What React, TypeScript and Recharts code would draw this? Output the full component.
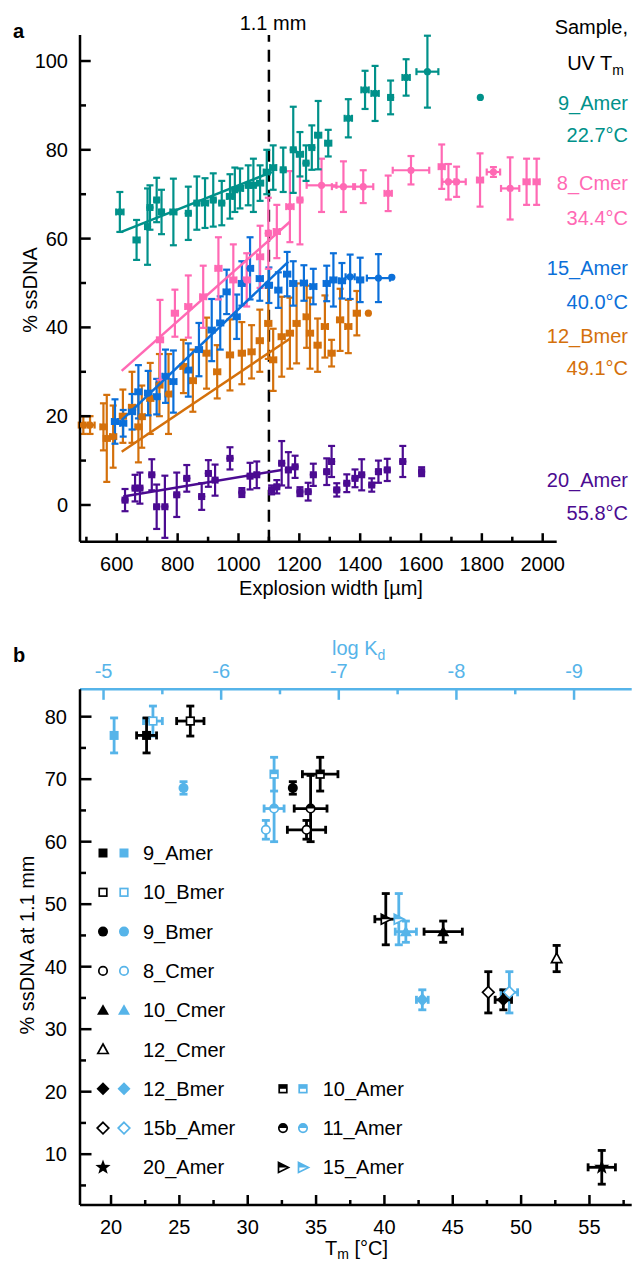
import React from "react"
import { ScatterChart, Scatter, XAxis, YAxis, ErrorBar, ReferenceLine } from "recharts"

const FONT = "'Liberation Sans', Arial, Helvetica, sans-serif"
const FS = 20

const TEAL = "#00918a"
const PINK = "#ff69b4"
const BLUE = "#0b6fd9"
const ORANGE = "#d4700b"
const PURPLE = "#4b0b91"
const SKY = "#56b4e9"

// ---------- panel a ----------
const widthTicks = [500, 600, 700, 800, 900, 1000, 1100, 1200, 1300, 1400, 1500, 1600, 1700, 1800, 1900, 2000]
const widthLabels = [600, 800, 1000, 1200, 1400, 1600, 1800, 2000]
const ssTicksA = [0, 10, 20, 30, 40, 50, 60, 70, 80, 90, 100]
const ssLabelsA = [0, 20, 40, 60, 80, 100]

const sampleNamesA = ["9_Amer", "8_Cmer", "15_Amer", "12_Bmer", "20_Amer"]
const sampleTmA = ["22.7", "34.4", "40.0", "49.1", "55.8"]

const amer9X = [610, 665, 701, 709, 731, 747, 786, 835, 863, 890, 917, 945, 972, 988, 1005, 1032, 1049, 1071, 1093, 1114, 1147, 1180, 1202, 1222, 1241, 1262, 1295, 1361, 1416, 1449, 1500, 1551, 1621, 1795]
const amer9Y = [66, 59.7, 62.7, 67, 68.7, 66, 66, 65.7, 68, 68, 68.7, 68, 69.5, 71, 71.3, 72, 72, 72.5, 75, 76, 75.5, 80, 79, 77, 80.5, 83.3, 81.5, 87.1, 93.5, 92.7, 91.8, 96.3, 97.6, 91.8]
const amer9Ey = [4.5, 4.5, 8.6, 5, 5, 5, 7.5, 6, 6, 5.6, 6, 5, 5, 5, 4.5, 4.5, 6, 4, 5, 5, 5, 9.7, 5, 4, 5, 7.7, 3, 4.3, 4.3, 6.2, 3.8, 4.1, 8.1, 0]
const amer9Ex = [12, 10, 8, 8, 8, 8, 10, 8, 8, 10, 8, 8, 10, 8, 10, 8, 8, 10, 10, 10, 8, 8, 10, 8, 8, 10, 10, 12, 12, 12, 8, 12, 36, 0]
const amer9FitX = [615, 1110]
const amer9FitY = [61.5, 75]

const cmer8X = [742, 791, 835, 884, 934, 983, 1027, 1071, 1098, 1126, 1169, 1202, 1273, 1345, 1410, 1492, 1567, 1668, 1690, 1717, 1794, 1838, 1893, 1947, 1980]
const cmer8Y = [37.2, 43.2, 44.7, 46.9, 53.3, 50.7, 50.7, 55.9, 61.2, 61.6, 67.2, 68.7, 72, 71.7, 71.7, 70.2, 75.4, 76.2, 72.8, 72.8, 73.2, 75, 71.3, 72.8, 72.8]
const cmer8Ey = [9, 5.3, 7, 7, 7, 8, 6, 7, 8, 6, 8, 10, 6, 5.7, 3.7, 4, 3.2, 5, 4, 3.4, 6, 1.1, 7, 5.2, 5.2]
const cmer8Ex = [10, 10, 10, 10, 10, 10, 10, 10, 8, 10, 12, 8, 49, 38, 33, 12, 60, 10, 20, 30, 10, 22, 30, 10, 10]
const cmer8FitX = [616, 1169]
const cmer8FitY = [30.2, 63.8]

const amer15X = [594, 621, 650, 671, 703, 731, 760, 786, 835, 870, 912, 940, 961, 994, 1011, 1038, 1070, 1100, 1131, 1160, 1180, 1215, 1246, 1290, 1312, 1340, 1367, 1400, 1460, 1504]
const amer15Y = [18.8, 18.4, 21, 25.5, 25.2, 24.4, 29, 27.8, 30.4, 35, 39.4, 41, 48, 42.4, 49.9, 53.3, 51, 49.5, 48.4, 52, 49.9, 50, 49.2, 49.9, 50.7, 50.5, 51.4, 50.7, 51.1, 51.3]
const amer15Ey = [5, 3, 4, 6, 5, 4, 6, 7, 6, 6, 7, 6, 5, 5, 5, 7, 5, 4, 4, 5, 5, 4, 4, 4, 6, 4, 5, 5, 5.4, 0]
const amer15Ex = [10, 10, 10, 10, 10, 10, 10, 10, 10, 10, 10, 10, 10, 10, 10, 10, 10, 10, 10, 10, 10, 10, 10, 10, 10, 10, 15, 10, 38, 0]
const amer15FitX = [616, 1164]
const amer15FitY = [19.1, 54.8]

const bmer12X = [490, 512, 556, 567, 588, 620, 650, 671, 682, 710, 740, 770, 819, 850, 895, 930, 972, 1011, 1043, 1070, 1098, 1114, 1142, 1169, 1191, 1224, 1235, 1260, 1284, 1306, 1334, 1361, 1389, 1427]
const bmer12Y = [18, 18, 17.6, 15, 15.4, 20, 22, 17.6, 19.9, 24, 27, 25, 31.2, 28, 34.2, 30, 33.8, 34.2, 34.5, 37, 40.9, 32.7, 37.9, 38.7, 40.9, 42.4, 38.7, 36, 40.2, 34.2, 41.7, 40.2, 43.2, 43.2]
const bmer12Ey = [2, 2, 5.3, 9.8, 7, 6, 8, 8, 7, 8, 7, 9, 6, 7, 8, 6, 8, 7, 6, 7, 8, 7, 9, 8, 9, 7, 8, 6, 7, 3, 7, 6, 5, 0]
const bmer12Ex = [15, 15, 10, 10, 10, 10, 10, 10, 10, 10, 10, 10, 10, 10, 10, 10, 10, 10, 10, 10, 10, 10, 10, 10, 10, 10, 10, 10, 10, 10, 10, 10, 10, 0]
const bmer12FitX = [616, 1170]
const bmer12FitY = [12, 37.5]

const amer20X = [627, 660, 676, 715, 731, 758, 797, 830, 879, 901, 923, 972, 1011, 1038, 1060, 1109, 1126, 1142, 1164, 1186, 1202, 1229, 1246, 1290, 1306, 1323, 1356, 1383, 1405, 1438, 1460, 1489, 1540, 1602]
const amer20Y = [1.1, 3.8, 3.8, 6.8, -0.4, -0.4, 2.3, 6, 1.9, 7.1, 5.6, 10.5, 2.8, 6.5, 6.8, 3.4, 4.1, 9.4, 7.9, 8.6, 3.0, 3.0, 6.8, 7.5, 9.8, 3.4, 4.9, 6, 6.8, 4.5, 7.5, 7.9, 9.8, 7.5]
const amer20Ey = [2.5, 3, 3.5, 3.5, 5, 7, 5, 3, 3, 3, 3.5, 2.5, 1, 3, 3, 1, 1.5, 5, 4, 2.5, 1, 2, 2.5, 3, 3.5, 1.5, 2, 2, 3.5, 1.5, 2.5, 2.5, 3.5, 1]
const amer20Ex = [8, 8, 8, 8, 8, 8, 8, 8, 8, 8, 8, 8, 8, 8, 8, 8, 8, 8, 8, 8, 8, 8, 8, 8, 8, 8, 8, 8, 8, 8, 8, 8, 8, 8]
const amer20FitX = [621, 1142]
const amer20FitY = [1.9, 7.9]

// ---------- panel b ----------
const tmTicks = [20, 22.5, 25, 27.5, 30, 32.5, 35, 37.5, 40, 42.5, 45, 47.5, 50, 52.5, 55, 57.5]
const tmLabels = [20, 25, 30, 35, 40, 45, 50, 55]
const kdTicks = [-5, -5.5, -6, -6.5, -7, -7.5, -8, -8.5, -9]
const kdLabels = [-5, -6, -7, -8, -9]
const ssTicksB = [5, 10, 15, 20, 25, 30, 35, 40, 45, 50, 55, 60, 65, 70, 75, 80]
const ssLabelsB = [10, 20, 30, 40, 50, 60, 70, 80]

const bSample = ["9_Amer", "10_Bmer", "9_Bmer", "8_Cmer", "10_Cmer", "12_Cmer", "12_Bmer", "15b_Amer", "20_Amer", "10_Amer", "11_Amer", "15_Amer"]
const bTm = [22.6, 25.8, 33.3, 34.3, 44.3, 52.6, 48.7, 47.6, 55.9, 35.3, 34.6, 40.1]
const bTmErr = [0.73, 1.0, 0, 1.4, 1.4, 0, 0.6, 0, 1.0, 1.3, 1.2, 0.8]
const bSs = [77.0, 79.3, 68.6, 61.9, 45.6, 41.3, 34.7, 35.9, 7.9, 70.8, 65.3, 47.6]
const bSsErr = [2.8, 2.4, 1.0, 1.5, 1.7, 2.1, 1.6, 3.3, 2.7, 2.7, 5.3, 4.1]
const bLogKd = [-5.09, -5.42, -5.68, -6.38, -7.57, null, -7.71, -8.45, null, -6.45, -6.45, -7.51]
const bLogKdErr = [0, 0.08, 0, 0, 0.09, 0, 0.05, 0.07, 0, 0, 0.085, 0]
const bShape = ["sq", "sqo", "ci", "cio", "tri", "trio", "dia", "diao", "star", "sqh", "cih", "rtri"]

type Pt = { x: number; y: number; ex: number; ey: number }
const toPoints = (xs: number[], ys: number[], exs: number[], eys: number[]): Pt[] =>
  xs.map((x, i) => ({ x, y: ys[i], ex: exs[i], ey: eys[i] }))
const toLine = (xs: number[], ys: number[]) => xs.map((x, i) => ({ x, y: ys[i] }))

type Side = "left" | "right" | "top" | "bottom"
type TickOpts = { side: Side; labels: number[]; major: number; minor: number; color: string; gap: number }

const makeTick = (o: TickOpts) => (props: any) => {
  const { x, y, payload } = props
  const v = payload.value as number
  const isMajor = o.labels.some((m) => Math.abs(m - v) < 1e-6)
  const len = isMajor ? o.major : o.minor
  let x2 = x
  let y2 = y
  if (o.side === "left") x2 = x + len
  if (o.side === "right") x2 = x - len
  if (o.side === "bottom") y2 = y - len
  if (o.side === "top") y2 = y + len
  let text = null
  const common = { fontFamily: FONT, fontSize: FS, fill: o.color === SKY ? SKY : "#000" }
  if (isMajor && o.side === "left") {
    text = <text x={x - o.gap} y={y} dy="0.35em" textAnchor="end" {...common}>{v}</text>
  }
  if (isMajor && o.side === "bottom") {
    text = <text x={x} y={y + o.gap} textAnchor="middle" {...common}>{v}</text>
  }
  if (isMajor && o.side === "top") {
    text = <text x={x} y={y - o.gap} textAnchor="middle" {...common}>{v}</text>
  }
  return (
    <g>
      <line x1={x} y1={y} x2={x2} y2={y2} stroke={o.color} strokeWidth={2.5} />
      {text}
    </g>
  )
}

function Marker({ kind, color, cx, cy }: { kind: string; color: string; cx: number; cy: number }) {
  const sw = 1.7
  if (kind === "sq") return <rect x={cx - 4.5} y={cy - 4.5} width={9} height={9} fill={color} />
  if (kind === "sqo")
    return <rect x={cx - 3.8} y={cy - 3.8} width={7.6} height={7.6} fill="#fff" stroke={color} strokeWidth={sw} />
  if (kind === "sqh")
    return (
      <g>
        <rect x={cx - 3.8} y={cy - 3.8} width={7.6} height={7.6} fill="#fff" stroke={color} strokeWidth={sw} />
        <rect x={cx - 3.8} y={cy - 3.8} width={7.6} height={3.8} fill={color} />
      </g>
    )
  if (kind === "ci") return <circle cx={cx} cy={cy} r={5} fill={color} />
  if (kind === "cio") return <circle cx={cx} cy={cy} r={4.2} fill="#fff" stroke={color} strokeWidth={sw} />
  if (kind === "cih")
    return (
      <g>
        <circle cx={cx} cy={cy} r={4.2} fill="#fff" stroke={color} strokeWidth={sw} />
        <path d={`M ${cx - 4.2} ${cy} A 4.2 4.2 0 0 1 ${cx + 4.2} ${cy} Z`} fill={color} />
      </g>
    )
  if (kind === "tri")
    return <polygon points={`${cx},${cy - 6} ${cx + 6},${cy + 4.5} ${cx - 6},${cy + 4.5}`} fill={color} />
  if (kind === "trio")
    return (
      <polygon
        points={`${cx},${cy - 5.5} ${cx + 5.2},${cy + 4} ${cx - 5.2},${cy + 4}`}
        fill="#fff"
        stroke={color}
        strokeWidth={sw}
      />
    )
  if (kind === "dia")
    return <polygon points={`${cx},${cy - 6.5} ${cx + 6.5},${cy} ${cx},${cy + 6.5} ${cx - 6.5},${cy}`} fill={color} />
  if (kind === "diao")
    return (
      <polygon
        points={`${cx},${cy - 5.8} ${cx + 5.8},${cy} ${cx},${cy + 5.8} ${cx - 5.8},${cy}`}
        fill="#fff"
        stroke={color}
        strokeWidth={sw}
      />
    )
  if (kind === "star") {
    const pts: string[] = []
    for (let i = 0; i < 10; i++) {
      const r = i % 2 === 0 ? 8 : 3.3
      const a = -Math.PI / 2 + (i * Math.PI) / 5
      pts.push(`${cx + r * Math.cos(a)},${cy + r * Math.sin(a)}`)
    }
    return <polygon points={pts.join(" ")} fill={color} />
  }
  if (kind === "rtri")
    return (
      <g>
        <polygon
          points={`${cx - 4.5},${cy - 5} ${cx + 5.5},${cy} ${cx - 4.5},${cy + 5}`}
          fill="#fff"
          stroke={color}
          strokeWidth={sw}
        />
        <polygon points={`${cx - 4.5},${cy - 5} ${cx + 5.5},${cy} ${cx - 4.5},${cy}`} fill={color} />
      </g>
    )
  return null
}

const dot = (color: string) => (p: any) => <circle cx={p.cx} cy={p.cy} r={3.6} fill={color} />
const nothing = () => <g />

const seriesA = [
  { name: "purple", color: PURPLE, pts: toPoints(amer20X, amer20Y, amer20Ex, amer20Ey), fit: toLine(amer20FitX, amer20FitY) },
  { name: "orange", color: ORANGE, pts: toPoints(bmer12X, bmer12Y, bmer12Ex, bmer12Ey), fit: toLine(bmer12FitX, bmer12FitY) },
  { name: "blue", color: BLUE, pts: toPoints(amer15X, amer15Y, amer15Ex, amer15Ey), fit: toLine(amer15FitX, amer15FitY) },
  { name: "pink", color: PINK, pts: toPoints(cmer8X, cmer8Y, cmer8Ex, cmer8Ey), fit: toLine(cmer8FitX, cmer8FitY) },
  { name: "teal", color: TEAL, pts: toPoints(amer9X, amer9Y, amer9Ex, amer9Ey), fit: toLine(amer9FitX, amer9FitY) },
]
const labelColorsA = [TEAL, PINK, BLUE, ORANGE, PURPLE]

function PanelA() {
  return (
    <ScatterChart width={634} height={610} margin={{ top: 35, right: 77.3, bottom: 38.3, left: 0 }}>
      <XAxis
        type="number"
        dataKey="x"
        domain={[479, 2046]}
        allowDataOverflow
        ticks={widthTicks}
        interval={0}
        height={30}
        tickSize={0}
        tickMargin={0}
        tickLine={false}
        axisLine={{ stroke: "#000", strokeWidth: 2.5 }}
        tick={makeTick({ side: "bottom", labels: widthLabels, major: 8.5, minor: 5, color: "#000", gap: 29.5 })}
      />
      <YAxis
        type="number"
        dataKey="y"
        domain={[-8.27, 105.86]}
        allowDataOverflow
        ticks={ssTicksA}
        interval={0}
        width={80}
        tickSize={0}
        tickMargin={0}
        tickLine={false}
        axisLine={{ stroke: "#000", strokeWidth: 2.5 }}
        tick={makeTick({ side: "left", labels: ssLabelsA, major: 10.7, minor: 6, color: "#000", gap: 12 })}
      />
      <ReferenceLine x={1100} stroke="#000" strokeWidth={2.5} strokeDasharray="12 8" />
      {seriesA.map((s) => (
        <Scatter key={s.name} data={s.pts} fill={s.color} shape={dot(s.color)} isAnimationActive={false}>
          <ErrorBar dataKey="ey" direction="y" width={3.5} stroke={s.color} strokeWidth={2.2} />
          <ErrorBar dataKey="ex" direction="x" width={3.5} stroke={s.color} strokeWidth={2.2} />
        </Scatter>
      ))}
      {seriesA.map((s) => (
        <Scatter
          key={s.name + "-fit"}
          data={s.fit}
          fill={s.color}
          shape={nothing}
          line={{ stroke: s.color, strokeWidth: 2.5 }}
          isAnimationActive={false}
        />
      ))}
    </ScatterChart>
  )
}

function PanelB() {
  const black = bSample.map((name, i) => ({
    name,
    kind: bShape[i],
    pts: [{ x: bTm[i], y: bSs[i], ex: bTmErr[i], ey: bSsErr[i] }],
  }))
  const blue = bSample
    .map((name, i) => ({
      name,
      kind: bShape[i],
      has: bLogKd[i] !== null,
      pts: [{ x: bLogKd[i] as number, y: bSs[i], ex: bLogKdErr[i], ey: bSsErr[i] }],
    }))
    .filter((s) => s.has)
  return (
    <ScatterChart width={634} height={632} margin={{ top: 29.3, right: 2.3, bottom: 27, left: 0 }}>
      <XAxis
        xAxisId="kd"
        orientation="top"
        type="number"
        dataKey="x"
        domain={[-9.49, -4.8]}
        reversed
        allowDataOverflow
        ticks={kdTicks}
        interval={0}
        height={30}
        tickSize={0}
        tickMargin={0}
        tickLine={false}
        axisLine={{ stroke: SKY, strokeWidth: 2.5 }}
        tick={makeTick({ side: "top", labels: kdLabels, major: 10.5, minor: 5, color: SKY, gap: 11 })}
      />
      <XAxis
        xAxisId="tm"
        orientation="bottom"
        type="number"
        dataKey="x"
        domain={[17.73, 58.09]}
        allowDataOverflow
        ticks={tmTicks}
        interval={0}
        height={30}
        tickSize={0}
        tickMargin={0}
        tickLine={false}
        axisLine={{ stroke: "#000", strokeWidth: 2.5 }}
        tick={makeTick({ side: "bottom", labels: tmLabels, major: 10, minor: 5, color: "#000", gap: 29 })}
      />
      <YAxis
        yAxisId="l"
        type="number"
        dataKey="y"
        domain={[1.87, 84.38]}
        allowDataOverflow
        ticks={ssTicksB}
        interval={0}
        width={80}
        tickSize={0}
        tickMargin={0}
        tickLine={false}
        axisLine={{ stroke: "#000", strokeWidth: 2.5 }}
        tick={makeTick({ side: "left", labels: ssLabelsB, major: 11.5, minor: 6, color: "#000", gap: 13 })}
      />
      <YAxis
        yAxisId="r"
        orientation="right"
        type="number"
        dataKey="y"
        domain={[1.87, 84.38]}
        allowDataOverflow
        ticks={ssTicksB}
        interval={0}
        width={0}
        tickSize={0}
        tickMargin={0}
        tickLine={false}
        axisLine={{ stroke: "#000", strokeWidth: 2.5 }}
        tick={makeTick({ side: "right", labels: ssLabelsB, major: 10, minor: 5, color: "#000", gap: 0 })}
      />
      {blue.map((s) => (
        <Scatter
          key={"kd-" + s.name}
          xAxisId="kd"
          yAxisId="l"
          data={s.pts}
          fill={SKY}
          shape={(p: any) => <Marker kind={s.kind} color={SKY} cx={p.cx} cy={p.cy} />}
          isAnimationActive={false}
        >
          <ErrorBar dataKey="ey" direction="y" width={4} stroke={SKY} strokeWidth={2.8} />
          <ErrorBar dataKey="ex" direction="x" width={4} stroke={SKY} strokeWidth={2.8} />
        </Scatter>
      ))}
      {black.map((s) => (
        <Scatter
          key={"tm-" + s.name}
          xAxisId="tm"
          yAxisId="l"
          data={s.pts}
          fill="#000"
          shape={(p: any) => <Marker kind={s.kind} color="#000" cx={p.cx} cy={p.cy} />}
          isAnimationActive={false}
        >
          <ErrorBar dataKey="ey" direction="y" width={4} stroke="#000" strokeWidth={2.8} />
          <ErrorBar dataKey="ex" direction="x" width={4} stroke="#000" strokeWidth={2.8} />
        </Scatter>
      ))}
    </ScatterChart>
  )
}

function Overlay() {
  const t = { fontFamily: FONT, fontSize: FS }
  const tmRows = [135, 217.7, 301.7, 368.3, 513.3]
  const nameRows = [102.7, 183, 268.3, 336, 480]
  const legendLeft = [0, 1, 2, 3, 4, 5, 6, 7, 8]
  const legendRight = [9, 10, 11]
  const rowY = (r: number) => 853 + r * 39.3
  return (
    <svg width={634} height={1262} style={{ position: "absolute", left: 0, top: 0, pointerEvents: "none" }}>
      <text x={13} y={38} {...t} fontWeight="bold">a</text>
      <text x={13} y={662} {...t} fontWeight="bold">b</text>
      <text x={273} y={30} textAnchor="middle" {...t}>1.1 mm</text>
      <text x={628} y={33.7} textAnchor="end" {...t}>Sample,</text>
      <text x={624} y={70.3} textAnchor="end" {...t}>
        UV T<tspan dy={5} fontSize={14}>m</tspan>
      </text>
      {sampleNamesA.map((n, i) => (
        <text key={n} x={628} y={nameRows[i] + 7} textAnchor="end" fill={labelColorsA[i]} {...t}>{n}</text>
      ))}
      {sampleTmA.map((v, i) => (
        <text key={v} x={628} y={tmRows[i] + 7} textAnchor="end" fill={labelColorsA[i]} {...t}>{v}°C</text>
      ))}
      <text transform="translate(37,290) rotate(-90)" textAnchor="middle" {...t}>% ssDNA</text>
      <text x={331} y={595} textAnchor="middle" {...t}>Explosion width [µm]</text>

      <text x={332} y={655} fill={SKY} {...t}>
        log K<tspan dy={5} fontSize={14}>d</tspan>
      </text>
      <text transform="translate(34,945) rotate(-90)" textAnchor="middle" {...t}>% ssDNA at 1.1 mm</text>
      <text x={325} y={1255} {...t}>
        T<tspan dy={4} fontSize={14}>m</tspan>
        <tspan dy={-4}> [°C]</tspan>
      </text>

      {legendLeft.map((i, r) => (
        <g key={bSample[i]}>
          <Marker kind={bShape[i]} color="#000" cx={103} cy={rowY(r)} />
          {bLogKd[i] !== null && <Marker kind={bShape[i]} color={SKY} cx={124} cy={rowY(r)} />}
          <text x={143} y={rowY(r) + 7} {...t}>{bSample[i]}</text>
        </g>
      ))}
      {legendRight.map((i, r) => (
        <g key={bSample[i]}>
          <Marker kind={bShape[i]} color="#000" cx={283} cy={rowY(r + 6)} />
          <Marker kind={bShape[i]} color={SKY} cx={303} cy={rowY(r + 6)} />
          <text x={322.7} y={rowY(r + 6) + 7} {...t}>{bSample[i]}</text>
        </g>
      ))}
    </svg>
  )
}

export default function App() {
  return (
    <div style={{ position: "absolute", left: 0, top: 0, width: 634, height: 1262, background: "#fff" }}>
      <div style={{ position: "absolute", left: 0, top: 0 }}>
        <PanelA />
      </div>
      <div style={{ position: "absolute", left: 0, top: 630 }}>
        <PanelB />
      </div>
      <Overlay />
    </div>
  )
}
